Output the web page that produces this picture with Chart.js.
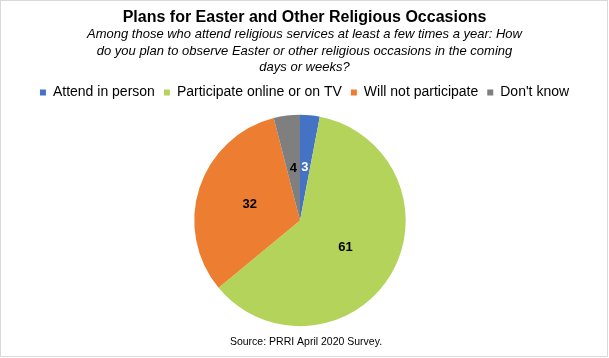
<!DOCTYPE html>
<html><head><meta charset="utf-8">
<script src="https://cdn.jsdelivr.net/npm/chart.js@4.4.1/dist/chart.umd.min.js"></script>
<style>html,body{margin:0;padding:0;background:#fff;}#wrap{width:609px;height:358px;position:relative;}</style>
</head><body><div id="wrap"><canvas id="c" width="609" height="358"></canvas></div>
<script>
const titleText = 'Plans for Easter and Other Religious Occasions';
const subtitleLines = [
  'Among those who attend religious services at least a few times a year: How',
  'do you plan to observe Easter or other religious occasions in the coming',
  'days or weeks?'
];
const categories = ['Attend in person', 'Participate online or on TV', 'Will not participate', "Don't know"];
const values = [3, 61, 32, 4];
const sliceColors = ['#4472C4', '#B3D35B', '#ED7D31', '#7F7F7F'];
const labelColors = ['#FFFFFF', '#000000', '#000000', '#000000'];
const sourceText = 'Source: PRRI April 2020 Survey.';

const FONT = "'Liberation Sans', Arial, Helvetica, sans-serif";
const pieShiftX = -4.5;

const shiftPlugin = {
  id: 'shiftArea',
  afterLayout(chart) {
    chart.chartArea.left += pieShiftX;
    chart.chartArea.right += pieShiftX;
  }
};
const labelPlugin = {
  id: 'sliceLabels',
  afterDatasetsDraw(chart) {
    const ctx = chart.ctx;
    const meta = chart.getDatasetMeta(0);
    ctx.save();
    ctx.font = 'bold 13px ' + FONT;
    ctx.textAlign = 'center';
    ctx.textBaseline = 'middle';
    meta.data.forEach((arc, i) => {
      const p = arc.tooltipPosition();
      ctx.fillStyle = labelColors[i];
      ctx.fillText(String(values[i]), p.x, p.y);
    });
    ctx.restore();
  }
};
const framePlugin = {
  id: 'frame',
  afterDraw(chart) {
    const ctx = chart.ctx;
    ctx.save();
    ctx.font = '10.5px ' + FONT;
    ctx.fillStyle = '#000';
    ctx.textAlign = 'center';
    ctx.textBaseline = 'middle';
    ctx.fillText(sourceText, 306, 342.5);
    ctx.strokeStyle = '#d9d9d9';
    ctx.lineWidth = 1;
    ctx.strokeRect(0.5, 0.5, 607, 356);
    ctx.restore();
  }
};

new Chart(document.getElementById('c'), {
  type: 'pie',
  data: {
    labels: categories,
    datasets: [{ data: values, backgroundColor: sliceColors, borderWidth: 0, radius: 105.7 }]
  },
  options: {
    responsive: false,
    animation: false,
    devicePixelRatio: 1,
    layout: { padding: { left: 0, right: 0, top: 0, bottom: 26.5 } },
    plugins: {
      title: {
        display: true, text: titleText, color: '#000',
        font: { family: FONT, size: 16, weight: 'bold', lineHeight: 1.2 },
        padding: { top: 7.5, bottom: 0 }
      },
      subtitle: {
        display: true, text: subtitleLines, color: '#000',
        font: { family: FONT, size: 13, style: 'italic', lineHeight: 1.25 },
        padding: { top: 0, bottom: 1 }
      },
      legend: {
        position: 'top',
        labels: {
          boxWidth: 6, boxHeight: 6, color: '#000', padding: 9,
          font: { family: FONT, size: 14 }
        }
      },
      tooltip: { enabled: false }
    },
    events: []
  },
  plugins: [shiftPlugin, labelPlugin, framePlugin]
});
</script></body></html>
